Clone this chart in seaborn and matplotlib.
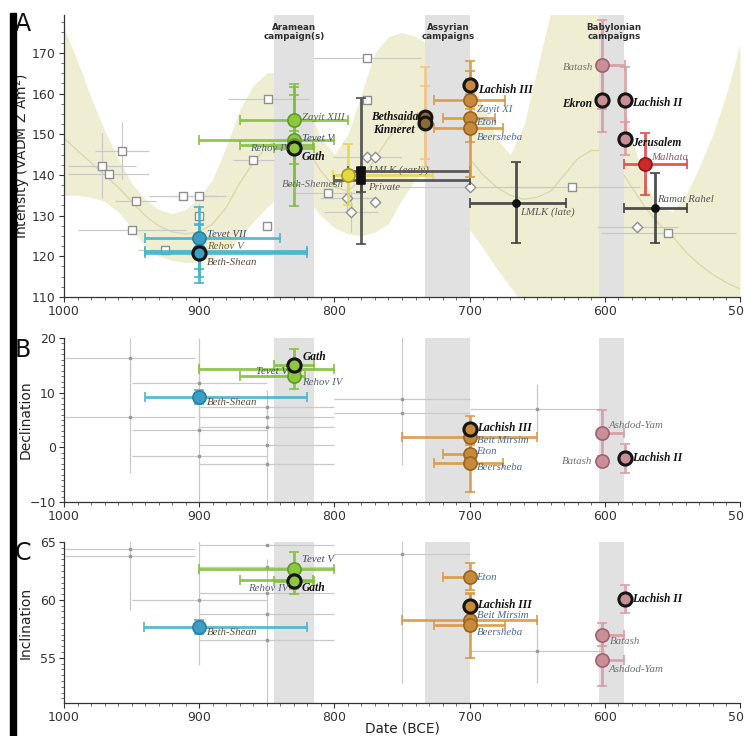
import numpy as np
import pandas as pd
import matplotlib
matplotlib.use("Agg")
import matplotlib.pyplot as plt
import seaborn as sns
from matplotlib.ticker import MultipleLocator, FixedLocator
from matplotlib.patches import Rectangle

# ---------------------------------------------------------------- data
# archaeomagnetic intensity curve envelope (panel A)
env_year = [1000, 990, 980, 970, 960, 950, 940, 930, 920, 910, 900, 890, 880, 870,
            860, 850, 840, 830, 820, 810, 800, 790, 780, 770, 760, 750, 740, 730,
            720, 710, 700, 690, 680, 670, 660, 650, 640, 630, 620, 610, 600, 590,
            580, 570, 560, 550, 540, 530, 520, 510, 500]
env_hi = [176, 168, 159, 151, 144, 138, 134, 131.5, 130.5, 131.5, 134.5, 139, 147, 156,
          162, 165, 165.5, 163.5, 157, 149, 145, 150, 160, 170, 174, 175, 174, 172,
          169, 166.5, 164, 157, 149, 145, 152, 166, 180, 185, 186, 184, 176, 163,
          149, 138, 132, 131, 135, 142, 150, 160, 172]
env_lo = [135, 135, 134.5, 133.5, 131, 127, 122.5, 120, 119, 118.5, 118.5, 119.5, 121.5, 124.5,
          128.5, 132, 135, 136, 134, 130, 127, 125.5, 125, 126, 128, 134, 139, 141,
          136, 131, 126.5, 122, 117, 112.5, 108, 104, 100, 97, 95, 95, 96, 98,
          100, 101, 101, 100, 98, 95, 90, 85, 78]
env_mid = [149, 146, 143, 140, 137, 133.5, 130, 127.5, 126, 125.5, 126, 128, 132, 138,
           143, 147, 149, 149, 146, 141, 137, 136, 139, 144, 149, 153, 155, 155,
           152, 148, 144, 140, 137, 135, 134, 134.5, 136, 140, 144, 146, 146, 142,
           137, 132, 128, 125, 121, 118, 115.5, 113.5, 112]

campaign_names = ["Aramean\ncampaign(s)", "Assyrian\ncampaigns", "Babylonian\ncampaigns"]
campaign_from = [845, 733, 604]
campaign_to = [815, 700, 586]
campaign_label_x = [830, 716, 593]

# ---- panel A : intensity
A_site = ["Tevet VII", "Rehov V", "Beth-Shean", "Zayit XIII", "Tevet V", "Rehov IV", "Gath",
          "Beth-Shemesh", "LMLK (early)", "Private", "Bethsaida", "Kinneret",
          "Lachish III", "Zayit XI", "Eton", "Beersheba", "LMLK (late)",
          "Batash", "Ekron", "Lachish II", "Jerusalem", "Malhata", "Ramat Rahel"]
A_year = [900, 900, 900, 830, 830, 830, 830, 790, 780, 780, 733, 733,
          700, 700, 700, 700, 666, 602, 602, 585, 585, 570, 563]
A_val = [124.6, 121.3, 120.7, 153.5, 148.6, 147.4, 146.7, 140.0, 141.0, 138.8, 154.2, 152.8,
         162.1, 158.5, 154.0, 151.6, 133.2, 167.1, 158.5, 158.3, 148.9, 142.7, 131.9]
A_from = [940, 940, 940, 870, 900, 870, 845, 801, 790, 800, 738, 738,
          702, 726, 720, 726, 700, 602, 602, 585, 585, 586, 586]
A_to = [840, 820, 820, 790, 800, 816, 815, 727, 700, 700, 728, 728,
        698, 674, 681, 675, 629, 585, 602, 585, 585, 539, 539]
A_err = [7.6, 6.5, 7.2, 8.0, 11.0, 15.0, 4.0, 7.5, 18.0, 3.0, 12.3, 9.0,
         5.8, 7.0, 6.0, 12.0, 10.0, 11.0, 8.0, 8.2, 4.0, 7.6, 8.6]
A_group = ["teal", "teal", "teal", "green", "green", "green", "green", "yellow", "blacksq", "blacksq",
           "dark", "dark", "brown", "brown", "brown", "brown", "black", "pink", "pink", "pink",
           "pink", "red", "black"]

# background (previously published) data, panel A
Ag_year_sq = [972, 967, 957, 947, 950, 925, 912, 900, 900, 860, 850, 849, 776, 776, 805, 624, 553]
Ag_val_sq = [142.3, 140.2, 146.0, 133.6, 126.5, 121.6, 134.8, 134.9, 129.8, 143.7, 127.5, 158.7,
             168.8, 158.5, 135.6, 137.1, 125.8]
Ag_xerr_sq = [25, 30, 20, 15, 40, 20, 25, 20, 0, 15, 0, 30, 40, 0, 25, 50, 50]
Ag_yerr_sq = [8, 0, 7, 0, 0, 0, 0, 0, 3, 0, 0, 0, 0, 0, 0, 0, 0]
Ag_year_di = [776, 770, 791, 788, 770, 700, 576]
Ag_val_di = [144.5, 144.5, 134.4, 131.0, 133.4, 137.0, 127.2]
Ag_xerr_di = [25, 0, 20, 20, 0, 60, 30]
Ag_yerr_di = [0, 0, 4, 5, 0, 0, 0]

# ---- panel B : declination
B_site = ["Gath", "Tevet V", "Rehov IV", "Beth-Shean", "Lachish III", "Beit Mirsim", "Eton",
          "Beersheba", "Ashdod-Yam", "Batash", "Lachish II"]
B_year = [830, 830, 830, 900, 700, 700, 700, 700, 602, 602, 585]
B_val = [15.1, 14.4, 13.0, 9.2, 3.4, 1.9, -1.2, -2.8, 2.6, -2.5, -2.0]
B_from = [845, 900, 870, 940, 702, 750, 720, 726, 602, 602, 585]
B_to = [815, 800, 822, 820, 698, 650, 700, 675, 586, 602, 585]
B_err = [2.8, 1.5, 2.3, 1.2, 2.3, 1.5, 2.0, 5.3, 4.2, 1.0, 2.7]
B_group = ["green", "green", "green", "teal", "brown", "brown", "brown", "brown", "pink", "pink", "pink"]

Bg_year = [951, 951, 900, 900, 900, 850, 850, 850, 850, 850, 750, 750, 650]
Bg_val = [16.3, 5.5, 11.7, 3.2, -1.6, 7.4, 5.5, 3.7, 0.4, -3.0, 8.8, 6.3, 7.0]
Bg_xerr = [48, 48, 50, 50, 50, 50, 50, 50, 50, 50, 50, 50, 50]
Bg_yerr = [3.7, 10.2, 8.3, 13.0, 0, 1.6, 0, 0, 10.0, 0, 12.0, 0, 4.5]

# ---- panel C : inclination
C_site = ["Tevet V", "Rehov IV", "Gath", "Beth-Shean", "Eton", "Lachish III", "Beit Mirsim",
          "Beersheba", "Lachish II", "Batash", "Ashdod-Yam"]
C_year = [830, 830, 830, 900, 700, 700, 700, 700, 585, 602, 602]
C_val = [62.7, 61.7, 61.6, 57.7, 62.0, 59.5, 58.3, 57.8, 60.1, 57.0, 54.8]
C_from = [900, 870, 845, 941, 720, 702, 750, 726, 585, 602, 602]
C_to = [800, 816, 815, 820, 700, 698, 650, 674, 585, 586, 586]
C_err = [1.4, 0.8, 1.1, 0.6, 1.15, 1.0, 1.0, 2.8, 1.2, 1.0, 2.2]
C_group = ["green", "green", "green", "teal", "brown", "brown", "brown", "brown", "pink", "pink", "pink"]

Cg_year = [951, 951, 900, 850, 850, 850, 850, 850, 750, 650]
Cg_val = [64.4, 63.8, 60.0, 64.7, 62.8, 60.6, 58.8, 56.5, 64.0, 55.6]
Cg_xerr = [48, 48, 50, 50, 50, 50, 50, 50, 50, 50]
Cg_yerr = [0, 4.7, 5.6, 0, 0, 0, 0, 7.0, 11.2, 2.8]

# ---------------------------------------------------------------- styles
STY = {
    "teal":    dict(fc="#3c9ec3", ec="#2b7f9e", err="#45b3cb", s=90, m="o"),
    "green":   dict(fc="#8dc63f", ec="#5f9a2a", err="#84bf3e", s=90, m="o"),
    "yellow":  dict(fc="#e6d83c", ec="#a89a20", err="#e4d75a", s=90, m="o"),
    "black":   dict(fc="#111111", ec="#111111", err="#3d3d3d", s=26, m="o"),
    "blacksq": dict(fc="#111111", ec="#111111", err="#4a4a4a", s=32, m="s"),
    "dark":    dict(fc="#8a6a3a", ec="#111111", err="#f1c58c", s=85, m="o"),
    "brown":   dict(fc="#c78a3c", ec="#9a6520", err="#db9845", s=90, m="o"),
    "pink":    dict(fc="#c98f99", ec="#a06070", err="#d99ca5", s=90, m="o"),
    "red":     dict(fc="#cc2a2a", ec="#991515", err="#dd4848", s=90, m="o"),
}
EDGE_A = {"Beth-Shean", "Gath", "Lachish III", "Bethsaida", "Kinneret", "Ekron",
          "Lachish II", "Jerusalem"}
EDGE_BC = {"Gath", "Lachish III", "Lachish II"}
BOLD_LABEL = {"Gath", "Lachish III", "Bethsaida", "Kinneret", "Ekron", "Lachish II", "Jerusalem"}
LABEL_COLOR = {
    "Tevet VII": "#3d4c70", "Tevet V": "#3d4c70", "Rehov V": "#7a6630", "Rehov IV": "#56607a",
    "Beth-Shean": "#5e4a3a", "Zayit XIII": "#4f6a2e", "Zayit XI": "#4a6a9a",
    "Eton": "#4a6890", "Beersheba": "#4a6890", "Beit Mirsim": "#4a6890",
    "Beth-Shemesh": "#666666", "LMLK (early)": "#555555", "Private": "#555555",
    "LMLK (late)": "#555555", "Batash": "#707070", "Ashdod-Yam": "#707070",
    "Malhata": "#8a5a5a", "Ramat Rahel": "#555555",
}
# label offsets in pixels (dx, dy down), horizontal alignment
LAB_A = {"Tevet VII": (8, -3, "left"), "Rehov V": (8, -5, "left"), "Beth-Shean": (8, 9, "left"),
         "Zayit XIII": (8, -2, "left"), "Tevet V": (8, -1, "left"), "Rehov IV": (-3, 4, "right"),
         "Gath": (8, 9, "left"), "Beth-Shemesh": (-4, 10, "right"), "LMLK (early)": (7, -1, "left"),
         "Private": (7, 8, "left"), "Bethsaida": (-6, 0, "right"), "Kinneret": (-10, 7, "right"),
         "Lachish III": (8, 5, "left"), "Zayit XI": (7, 10, "left"), "Eton": (7, 5, "left"),
         "Beersheba": (7, 10, "left"), "LMLK (late)": (5, 10, "left"), "Batash": (-9, 3, "right"),
         "Ekron": (-10, 4, "right"), "Lachish II": (7, 3, "left"), "Jerusalem": (7, 4, "left"),
         "Malhata": (6, -6, "left"), "Ramat Rahel": (2, -8, "left")}
LAB_B = {"Gath": (9, -8, "left"), "Tevet V": (-6, 3, "right"), "Rehov IV": (8, 6, "left"),
         "Beth-Shean": (8, 5, "left"), "Lachish III": (7, -1, "left"), "Beit Mirsim": (7, 4, "left"),
         "Eton": (7, -2, "left"), "Beersheba": (7, 5, "left"), "Ashdod-Yam": (6, -8, "left"),
         "Batash": (-10, 0, "right"), "Lachish II": (7, 0, "left")}
LAB_C = {"Tevet V": (8, -9, "left"), "Rehov IV": (-5, 8, "right"), "Gath": (8, 7, "left"),
         "Beth-Shean": (8, 6, "left"), "Eton": (7, 1, "left"), "Lachish III": (7, -1, "left"),
         "Beit Mirsim": (7, -4, "left"), "Beersheba": (7, 7, "left"), "Lachish II": (7, 0, "left"),
         "Batash": (8, 7, "left"), "Ashdod-Yam": (6, 9, "left")}

sns.set_theme(style="ticks")
plt.rcParams["font.family"] = ["DejaVu Sans"]

fig = plt.figure(figsize=(7.44, 7.36), dpi=100)
W, H = 744.0, 736.0


def add_axes(top, bottom, left=64, right=740):
    return fig.add_axes([left / W, 1 - bottom / H, (right - left) / W, (bottom - top) / H])


axA = add_axes(15, 297)
axB = add_axes(338, 502)
axC = add_axes(542, 703)

PX = 0.72  # points per pixel


def style_axis(ax, ylim, yticks, yminor, ylabel):
    ax.set_xlim(1000, 500)
    ax.set_ylim(*ylim)
    ax.yaxis.set_major_locator(FixedLocator(yticks))
    ax.yaxis.set_minor_locator(MultipleLocator(yminor))
    ax.xaxis.set_major_locator(FixedLocator([1000, 900, 800, 700, 600, 500]))
    ax.xaxis.set_minor_locator(MultipleLocator(10))
    ax.set_xticklabels(["1000", "900", "800", "700", "600", "500"])
    ax.tick_params(axis="both", which="major", labelsize=9, colors="#333333", length=3.5,
                   width=0.8, pad=2.5)
    ax.tick_params(axis="both", which="minor", length=2, width=0.6, colors="#555555")
    ax.set_ylabel(ylabel, fontsize=10, color="#222222")
    ax.yaxis.set_label_coords(-31 / 676.0, 0.5)
    ax.set_xlabel("")
    for sp in ["top", "right"]:
        ax.spines[sp].set_visible(False)
    for sp in ["left", "bottom"]:
        ax.spines[sp].set_color("#333333")
        ax.spines[sp].set_linewidth(0.9)
    ax.set_facecolor("white")


def campaigns(ax, labels=False):
    for f, t, nm, lx in zip(campaign_from, campaign_to, campaign_names, campaign_label_x):
        ax.axvspan(f, t, color="#e1e1e1", zorder=0.5, lw=0)
        if labels:
            ax.text(lx, 0.94, nm, transform=ax.get_xaxis_transform(), ha="center", va="center",
                    fontsize=6.3, fontweight="bold", color="#2e2e2e", linespacing=1.0, zorder=6)


def background(ax, years, vals, xerr, yerr, marker=None, mfc="white"):
    ax.errorbar(years, vals, xerr=xerr, yerr=yerr, fmt="none", ecolor="#c9c9c9",
                elinewidth=0.9, capsize=0, zorder=1)
    if marker is None:
        ax.plot(years, vals, ls="none", marker="s", ms=2, mfc="#9a9a9a", mec="#9a9a9a", zorder=1.2)
    else:
        sns.scatterplot(x=years, y=vals, marker=marker, s=28, facecolor=mfc,
                        edgecolor="#8f8f8f", linewidth=1.0, ax=ax, zorder=1.2)


def sites(ax, site, year, val, frm, to, err, group, labs, edge_set):
    df = pd.DataFrame({"site": site, "year": year, "val": val, "frm": frm, "to": to,
                       "err": err, "group": group})
    for _, r in df.iterrows():
        st = STY[r.group]
        # x axis is inverted: lower error -> younger date (to), upper -> older date (from)
        ax.errorbar([r.year], [r.val], xerr=[[r.year - r.to], [r.frm - r.year]],
                    yerr=[[r.err], [r.err]], fmt="none", ecolor=st["err"], elinewidth=2.0,
                    capsize=3.5, capthick=1.3, alpha=0.9, zorder=2)
    for g, sub in df.groupby("group"):
        st = STY[g]
        normal = sub[~sub.site.isin(edge_set)]
        bold = sub[sub.site.isin(edge_set)]
        if len(normal):
            sns.scatterplot(data=normal, x="year", y="val", marker=st["m"], s=st["s"],
                            color=st["fc"], edgecolor=st["ec"], linewidth=1.2, ax=ax, zorder=3,
                            legend=False)
        if len(bold):
            sns.scatterplot(data=bold, x="year", y="val", marker=st["m"], s=st["s"],
                            color=st["fc"], edgecolor="#151515", linewidth=2.2, ax=ax, zorder=3.5,
                            legend=False)
    for _, r in df.iterrows():
        dx, dy, ha = labs[r.site]
        b = r.site in BOLD_LABEL
        ax.annotate(r.site, (r.year, r.val), xytext=(dx * PX, -dy * PX), textcoords="offset points",
                    ha=ha, va="center", fontsize=8.3 if b else 7.8, family=["Liberation Serif"],
                    style="italic", fontweight="bold" if b else "normal",
                    color="#111111" if b else LABEL_COLOR.get(r.site, "#444444"), zorder=5)
    ax.set_xlabel("")
    ax.set_ylabel("")


# ---------------- panel A
axA.fill_between(env_year, env_lo, env_hi, color="#efeed3", lw=0, zorder=0.2)
sns.lineplot(x=env_year, y=env_mid, color="#d9d6ab", lw=0.9, ax=axA, zorder=0.3)
campaigns(axA, labels=True)
background(axA, Ag_year_sq, Ag_val_sq, Ag_xerr_sq, Ag_yerr_sq, marker="s")
background(axA, Ag_year_di, Ag_val_di, Ag_xerr_di, Ag_yerr_di, marker="D")
sites(axA, A_site, A_year, A_val, A_from, A_to, A_err, A_group, LAB_A, EDGE_A)
style_axis(axA, (110, 179.3), [110, 120, 130, 140, 150, 160, 170], 2.5,
           "Intensity (VADM Z Am$^2$)")

# ---------------- panel B
campaigns(axB)
background(axB, Bg_year, Bg_val, Bg_xerr, Bg_yerr)
sites(axB, B_site, B_year, B_val, B_from, B_to, B_err, B_group, LAB_B, EDGE_BC)
style_axis(axB, (-10, 20), [-10, 0, 10, 20], 1, "Declination")

# ---------------- panel C
campaigns(axC)
background(axC, Cg_year, Cg_val, Cg_xerr, Cg_yerr)
sites(axC, C_site, C_year, C_val, C_from, C_to, C_err, C_group, LAB_C, EDGE_BC)
style_axis(axC, (51.1, 65), [55, 60, 65], 0.5, "Inclination")
axC.set_xlabel("Date (BCE)", fontsize=9.8, color="#222222")
axC.xaxis.set_label_coords(0.5, -18 / 161.0)

# panel letters and left bar
for lab, y in zip(["A", "B", "C"], [24, 350, 553]):
    fig.text(15 / W, 1 - y / H, lab, fontsize=17, ha="left", va="center", color="#111111")
fig.patches.append(Rectangle((10 / W, 0), 6 / W, 1 - 13 / H, transform=fig.transFigure,
                             color="black", zorder=10))

fig.savefig("out.png", dpi=100)
